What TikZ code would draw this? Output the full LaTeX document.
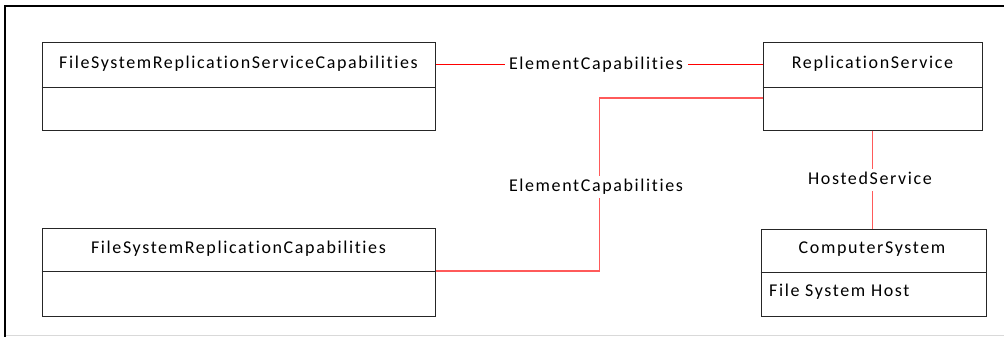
\documentclass[tikz,border=0pt]{standalone}
\usepackage{fontspec}
\setmainfont{Carlito}[LetterSpace=9,Ligatures={NoCommon,NoContextual}]
\begin{document}
\begin{tikzpicture}[x=1pt,y=-1pt,
  every node/.style={font=\fontsize{18}{20}\selectfont},
  classbox/.style={draw=black!85,line width=1pt,rectangle,inner sep=0pt},
  title/.style={inner sep=0pt,text height=12pt,text depth=4pt},
  lbl/.style={fill=white,inner xsep=4.5pt,inner ysep=3pt,text height=12pt,text depth=4pt},
  connA/.style={draw=red,line width=1pt},
  connB/.style={draw={rgb,255:red,255;green,90;blue,90},line width=1.6pt},
  divider/.style={draw=black!85,line width=1pt}]
\useasboundingbox (0,0) rectangle (1004,337);
% frame
\draw[line width=2pt] (1004,6) -- (5,6) -- (5,337);
\draw[black!15,line width=1.5pt] (6,335.5) -- (1004,335.5);
% boxes
\node[classbox,minimum width=393pt,minimum height=87pt] (fssc) at (238.5,86.5) {};
\node[title] (fsscT) at (238.5,65) {FileSystemReplicationServiceCapabilities};
\draw[divider] (fssc.west |- 0,87) -- (fssc.east |- 0,87);
\node[classbox,minimum width=219pt,minimum height=87pt] (rs) at (872.5,86.5) {};
\node[title] (rsT) at (872.5,65) {ReplicationService};
\draw[divider] (rs.west |- 0,87) -- (rs.east |- 0,87);
\node[classbox,minimum width=393pt,minimum height=88pt] (fsrc) at (238.5,272) {};
\node[title] (fsrcT) at (238.5,249) {FileSystemReplicationCapabilities};
\draw[divider] (fsrc.west |- 0,271) -- (fsrc.east |- 0,271);
\node[classbox,minimum width=225pt,minimum height=87pt] (cs) at (873.5,272.5) {};
\node[title] (csT) at (872,249) {ComputerSystem};
\draw[divider] (cs.west |- 0,272) -- (cs.east |- 0,272);
\node[title,anchor=west] (csA) at (769,292) {File System Host};
% connectors
\draw[connA] (fssc.east |- fsscT) -- (rs.west |- rsT);
\node[lbl] (l1) at (596,66) {ElementCapabilities};
\draw[connB] ([yshift=-11.5pt]rs.west) -- ++(-163,0) |- ([yshift=1pt]fsrc.east);
\node[lbl] (l2) at (596,187) {ElementCapabilities};
\draw[connB] (rs.south) -- (rs.south |- cs.north);
\node[lbl] (l3) at (870,180) {HostedService};
\end{tikzpicture}
\end{document}
